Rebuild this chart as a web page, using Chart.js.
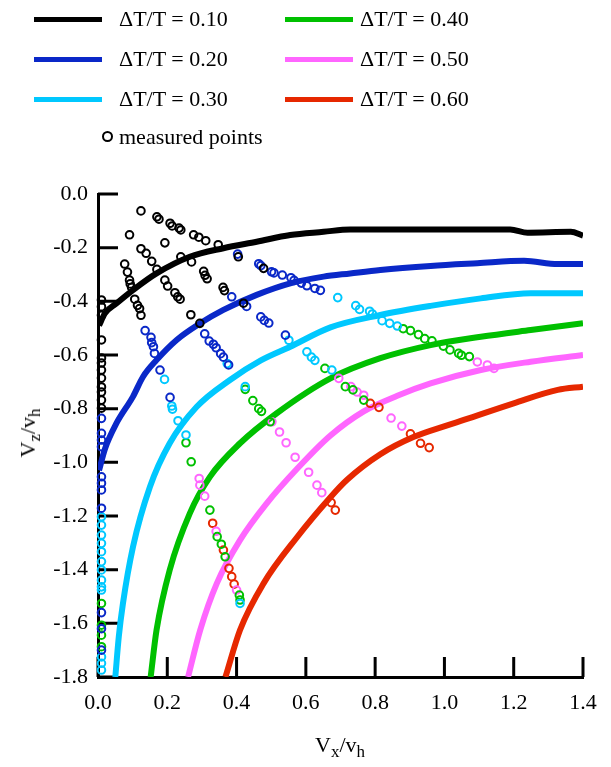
<!DOCTYPE html>
<html>
<head>
<meta charset="utf-8">
<script src="https://cdn.jsdelivr.net/npm/chart.js@4/dist/chart.umd.min.js"></script>
<style>
  body { margin: 0; background: #fff; }
  #wrap { position: relative; width: 611px; height: 767px; font-family: 'Liberation Serif', 'Times New Roman', serif; color: #000; }
  #c { position: absolute; left: 0; top: 0; }
  .lg-line { position: absolute; width: 68px; height: 5px; }
  .lg-text { position: absolute; font-size: 22px; line-height: 22px; white-space: nowrap; }
  .lg-dot { position: absolute; width: 7px; height: 7px; border: 2.5px solid #000; border-radius: 50%; }
  .ax-title { position: absolute; font-size: 22px; white-space: nowrap; }
  .ax-title sub { font-size: 17px; vertical-align: -5px; line-height: 0; }
</style>
</head>
<body>
<div id="wrap">
  <canvas id="c" width="611" height="767"></canvas>
  <div id="legend"></div>
  <div class="ax-title" id="ytitle">V<sub>z</sub>/v<sub>h</sub></div>
  <div class="ax-title" id="xtitle">V<sub>x</sub>/v<sub>h</sub></div>
</div>
<script>
'use strict';

// ─── Data ─────────────────────────────────────────────────────────────────────

const seriesLabels = ['ΔT/T = 0.10', 'ΔT/T = 0.20', 'ΔT/T = 0.30', 'ΔT/T = 0.40', 'ΔT/T = 0.50', 'ΔT/T = 0.60'];
const seriesColors = ['#000000', '#0a28c8', '#00c8ff', '#00c000', '#ff66ff', '#e62800'];

const xTickVals = [0, 0.2, 0.4, 0.6, 0.8, 1.0, 1.2, 1.4];
const yTickVals = [0, -0.2, -0.4, -0.6, -0.8, -1.0, -1.2, -1.4, -1.6, -1.8];

// model curves [Vx/vh, Vz/vh]
const curve10 = [[0.003,-0.49],[0.02,-0.445],[0.053,-0.408],[0.101,-0.358],[0.169,-0.296],[0.265,-0.234],
  [0.362,-0.202],[0.458,-0.178],[0.555,-0.153],[0.651,-0.141],[0.728,-0.132],[0.9,-0.132],[1.19,-0.132],
  [1.24,-0.144],[1.365,-0.141],[1.40,-0.155]];
const curve20 = [[0.003,-1.03],[0.02,-0.95],[0.053,-0.855],[0.101,-0.755],[0.130,-0.681],[0.169,-0.619],
  [0.227,-0.544],[0.295,-0.482],[0.362,-0.432],[0.458,-0.376],[0.555,-0.333],[0.651,-0.308],[0.728,-0.296],
  [0.815,-0.283],[0.960,-0.268],[1.095,-0.258],[1.230,-0.249],[1.327,-0.261],[1.40,-0.261]];
const curve30 = [[0.05,-1.8],[0.06,-1.65],[0.072,-1.526],[0.101,-1.315],[0.150,-1.091],[0.207,-0.929],
  [0.285,-0.793],[0.381,-0.693],[0.470,-0.62],[0.555,-0.569],[0.671,-0.497],[0.815,-0.451],[0.960,-0.417],
  [1.105,-0.389],[1.249,-0.370],[1.40,-0.370]];
const curve40 = [[0.152,-1.8],[0.169,-1.625],[0.207,-1.401],[0.265,-1.19],[0.323,-1.054],[0.41,-0.929],
  [0.516,-0.817],[0.671,-0.687],[0.815,-0.612],[0.96,-0.563],[1.105,-0.532],[1.249,-0.507],[1.40,-0.482]];
const curve50 = [[0.26,-1.8],[0.295,-1.625],[0.343,-1.451],[0.41,-1.29],[0.487,-1.153],[0.574,-1.025],
  [0.671,-0.9],[0.767,-0.81],[0.864,-0.752],[0.96,-0.706],[1.105,-0.656],[1.249,-0.625],[1.40,-0.60]];
const curve60 = [[0.368,-1.8],[0.41,-1.625],[0.478,-1.451],[0.574,-1.28],[0.671,-1.13],[0.719,-1.065],
  [0.815,-0.97],[0.912,-0.905],[1.008,-0.862],[1.056,-0.842],[1.2,-0.78],[1.327,-0.73],[1.40,-0.718]];

// measured points [Vx/vh, Vz/vh]
const pts10 = [[0.124,-0.063],[0.170,-0.085],[0.176,-0.094],[0.208,-0.109],[0.214,-0.119],[0.234,-0.127],
  [0.239,-0.134],[0.091,-0.152],[0.276,-0.152],[0.291,-0.161],[0.311,-0.174],[0.347,-0.189],[0.193,-0.182],
  [0.124,-0.204],[0.139,-0.221],[0.155,-0.251],[0.170,-0.281],[0.077,-0.261],[0.085,-0.291],[0.091,-0.321],
  [0.093,-0.335],[0.097,-0.348],[0.193,-0.321],[0.201,-0.343],[0.222,-0.368],[0.230,-0.383],[0.237,-0.392],
  [0.239,-0.234],[0.270,-0.253],[0.305,-0.288],[0.309,-0.303],[0.315,-0.316],[0.361,-0.348],[0.365,-0.360],
  [0.106,-0.392],[0.114,-0.415],[0.120,-0.427],[0.124,-0.452],[0.268,-0.450],[0.405,-0.234],[0.478,-0.277],
  [0.420,-0.407],[0.294,-0.482],
  [0.01,-0.395],[0.01,-0.42],[0.01,-0.452],[0.01,-0.544],[0.01,-0.611],[0.01,-0.63],[0.01,-0.656],
  [0.01,-0.686],[0.01,-0.719],[0.01,-0.738],[0.01,-0.768],[0.01,-0.798]];
const pts20 = [[0.403,-0.224],[0.386,-0.383],[0.464,-0.260],[0.470,-0.267],[0.501,-0.290],[0.508,-0.294],
  [0.532,-0.302],[0.557,-0.312],[0.566,-0.322],[0.587,-0.332],[0.603,-0.342],[0.626,-0.352],[0.642,-0.359],
  [0.429,-0.419],[0.470,-0.458],[0.480,-0.471],[0.493,-0.481],[0.541,-0.526],[0.308,-0.521],[0.321,-0.548],
  [0.333,-0.560],[0.341,-0.573],[0.354,-0.595],[0.362,-0.608],[0.377,-0.637],[0.136,-0.509],[0.153,-0.534],
  [0.155,-0.554],[0.160,-0.569],[0.163,-0.594],[0.179,-0.656],[0.208,-0.758],
  [0.01,-0.836],[0.01,-0.892],[0.01,-0.917],[0.01,-0.942],[0.01,-1.054],[0.01,-1.078],[0.01,-1.103],
  [0.01,-1.171],[0.01,-1.56],[0.01,-1.62],[0.01,-1.70]];
const pts30 = [[0.692,-0.386],[0.744,-0.416],[0.755,-0.430],[0.784,-0.437],[0.792,-0.447],[0.82,-0.472],
  [0.842,-0.482],[0.864,-0.492],[0.551,-0.545],[0.603,-0.588],[0.616,-0.608],[0.626,-0.620],[0.675,-0.656],
  [0.373,-0.632],[0.425,-0.718],[0.192,-0.691],[0.213,-0.790],[0.215,-0.802],[0.231,-0.845],[0.254,-0.898],
  [0.41,-1.526],
  [0.01,-1.203],[0.01,-1.234],[0.01,-1.271],[0.01,-1.302],[0.01,-1.333],[0.01,-1.370],[0.01,-1.401],
  [0.01,-1.439],[0.01,-1.464],[0.01,-1.476],[0.01,-1.725],[0.01,-1.749],[0.01,-1.774]];
const pts40 = [[0.881,-0.502],[0.902,-0.509],[0.925,-0.524],[0.943,-0.539],[0.964,-0.547],[0.997,-0.567],
  [1.016,-0.581],[1.041,-0.594],[1.049,-0.601],[1.072,-0.606],[0.714,-0.718],[0.736,-0.730],[0.767,-0.768],
  [0.655,-0.650],[0.425,-0.728],[0.447,-0.770],[0.464,-0.800],[0.472,-0.81],[0.497,-0.849],[0.254,-0.927],
  [0.269,-0.998],[0.323,-1.178],[0.344,-1.277],[0.356,-1.305],[0.367,-1.352],[0.408,-1.495],[0.41,-1.513],
  [0.01,-1.526],[0.01,-1.607],[0.01,-1.644],[0.01,-1.687]];
const pts50 = [[0.695,-0.687],[0.730,-0.718],[0.748,-0.738],[0.767,-0.750],[0.502,-0.849],[0.524,-0.887],
  [0.543,-0.927],[0.569,-0.981],[0.608,-1.037],[0.632,-1.085],[0.646,-1.113],[0.292,-1.060],[0.294,-1.085],
  [0.308,-1.126],[0.341,-1.257],[0.40,-1.476],[0.846,-0.835],[0.877,-0.865],[1.095,-0.626],[1.124,-0.637],
  [1.143,-0.650]];
const pts60 = [[0.331,-1.227],[0.362,-1.327],[0.378,-1.395],[0.386,-1.426],[0.393,-1.454],[0.673,-1.150],
  [0.685,-1.178],[0.786,-0.780],[0.811,-0.795],[0.902,-0.894],[0.931,-0.929],[0.956,-0.945]];

const curves = [curve10, curve20, curve30, curve40, curve50, curve60];
const points = [pts10, pts20, pts30, pts40, pts50, pts60];

// ─── Legend / titles (HTML) ───────────────────────────────────────────────────

function buildLegend() {
  const el = document.getElementById('legend');
  const rowsY = [19, 59, 99];
  el.innerHTML = seriesLabels.map((lbl, i) => {
    const col = Math.floor(i / 3);
    const y = rowsY[i % 3];
    const lx = col === 0 ? 34 : 285;
    const tx = col === 0 ? 119 : 360;
    return `<div class="lg-line" style="left:${lx}px;top:${y - 2.5}px;background:${seriesColors[i]}"></div>
            <div class="lg-text" style="left:${tx}px;top:${y - 11}px">${lbl}</div>`;
  }).join('') +
  `<div class="lg-dot" style="left:101.5px;top:130.5px"></div>
   <div class="lg-text" style="left:119px;top:126px">measured points</div>`;

  const yt = document.getElementById('ytitle');
  yt.style.left = '28px';
  yt.style.top = '433px';
  yt.style.transform = 'translate(-50%, -50%) rotate(-90deg)';
  const xt = document.getElementById('xtitle');
  xt.style.left = '340px';
  xt.style.top = '745px';
  xt.style.transform = 'translate(-50%, -50%)';
}

// ─── Inner tick marks ─────────────────────────────────────────────────────────

const innerTicks = {
  id: 'innerTicks',
  beforeDatasetsDraw(chart) {
    const { ctx, chartArea: a, scales: { x, y } } = chart;
    ctx.save();
    ctx.strokeStyle = '#000';
    ctx.lineWidth = 3;
    ctx.beginPath();
    xTickVals.forEach((v) => {
      const px = x.getPixelForValue(v);
      ctx.moveTo(px, a.bottom);
      ctx.lineTo(px, a.bottom - 20);
    });
    yTickVals.forEach((v) => {
      const py = y.getPixelForValue(v);
      ctx.moveTo(a.left, py);
      ctx.lineTo(a.left + 20, py);
    });
    ctx.stroke();
    ctx.restore();
  },
};

// ─── Chart ────────────────────────────────────────────────────────────────────

function buildChart() {
  const tickFont = { family: "'Liberation Serif', 'Times New Roman', serif", size: 22 };

  const pointSets = points.map((pts, i) => ({
    type: 'scatter',
    label: seriesLabels[i] + ' measured',
    data: pts.map(([x, y]) => ({ x, y })),
    showLine: false,
    pointStyle: 'circle',
    pointRadius: 3.8,
    pointBorderWidth: 2,
    borderColor: seriesColors[i],
    backgroundColor: 'rgba(0,0,0,0)',
    clip: false,
    order: 0,
  }));

  const lineSets = curves.map((c, i) => ({
    type: 'line',
    label: seriesLabels[i],
    data: c.map(([x, y]) => ({ x, y })),
    borderColor: seriesColors[i],
    borderWidth: 6,
    pointRadius: 0,
    cubicInterpolationMode: 'monotone',
    fill: false,
    order: 1,
  }));

  new Chart(document.getElementById('c'), {
    data: { datasets: [...pointSets, ...lineSets] },
    options: {
      responsive: false,
      animation: false,
      layout: { padding: { top: 194, right: 28, bottom: 0, left: 0 } },
      plugins: { legend: { display: false }, tooltip: { enabled: false } },
      scales: {
        x: {
          type: 'linear',
          min: 0,
          max: 1.4,
          afterBuildTicks: (s) => { s.ticks = xTickVals.map((v) => ({ value: v })); },
          afterFit: (s) => { s.height = 90; },
          ticks: {
            font: tickFont,
            color: '#000',
            padding: 13,
            maxRotation: 0,
            callback: (v) => Number(v).toFixed(1),
          },
          grid: { display: true, drawOnChartArea: false, drawTicks: false },
          border: { display: true, width: 3, color: '#000' },
        },
        y: {
          type: 'linear',
          min: -1.8,
          max: 0,
          afterBuildTicks: (s) => { s.ticks = yTickVals.map((v) => ({ value: v })); },
          afterFit: (s) => { s.width = 98; },
          ticks: {
            font: tickFont,
            color: '#000',
            padding: 10,
            callback: (v) => (Math.abs(v) < 1e-9 ? '0.0' : Number(v).toFixed(1)),
          },
          grid: { display: true, drawOnChartArea: false, drawTicks: false },
          border: { display: true, width: 3, color: '#000' },
        },
      },
    },
    plugins: [innerTicks],
  });
}

document.addEventListener('DOMContentLoaded', () => {
  buildLegend();
  buildChart();
});
</script>
</body>
</html>
